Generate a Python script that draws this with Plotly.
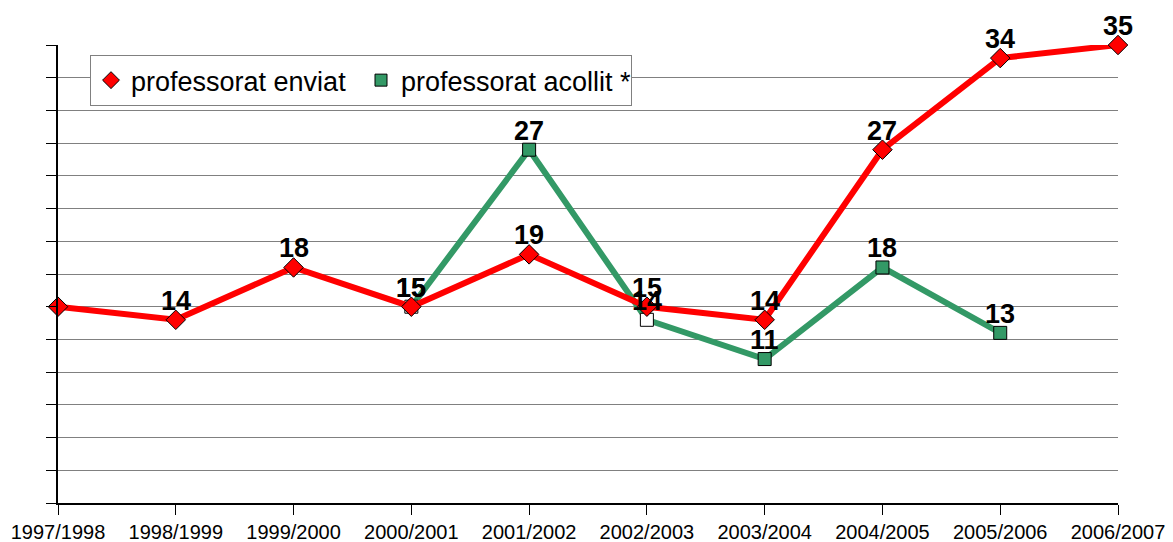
import plotly.graph_objects as go

cursos = ["1997/1998", "1998/1999", "1999/2000", "2000/2001", "2001/2002",
          "2002/2003", "2003/2004", "2004/2005", "2005/2006", "2006/2007"]
enviat = [15, 14, 18, 15, 19, 15, 14, 27, 34, 35]
acollit = [None, None, None, 15, 27, 14, 11, 18, 13, None]

# first point of the red series carries no label in the original
enviat_labelled = [False] + [True] * 9

RED = "#ff0000"
GREEN = "#339966"
label_font = dict(family="Liberation Sans, Arial, sans-serif", size=27,
                  color="black", weight="bold")

fig = go.Figure()

# green first so the red line sits on top of it
fig.add_trace(go.Scatter(
    x=cursos, y=acollit, mode="lines+markers", cliponaxis=False,
    line=dict(color=GREEN, width=6), showlegend=False,
    marker=dict(symbol="square", size=13,
                color=["white", "white", "white", "white", GREEN, "white", GREEN, GREEN, GREEN, GREEN],
                line=dict(color="black", width=1)),
))
fig.add_trace(go.Scatter(
    x=cursos, y=enviat, mode="lines+markers", cliponaxis=False,
    line=dict(color=RED, width=6), showlegend=False,
    marker=dict(symbol="diamond", size=15, color=RED, line=dict(color="black", width=1)),
))

# legend entries with marker only
fig.add_trace(go.Scatter(x=[None], y=[None], mode="markers", name="professorat enviat",
                         marker=dict(symbol="diamond", size=13, color=RED,
                                     line=dict(color="black", width=1))))
fig.add_trace(go.Scatter(x=[None], y=[None], mode="markers", name="professorat acollit *",
                         marker=dict(symbol="square", size=12, color=GREEN,
                                     line=dict(color="black", width=1))))

# value labels just above each point
for serie, shown in ((acollit, [v is not None for v in acollit]), (enviat, enviat_labelled)):
    for c, v, s in zip(cursos, serie, shown):
        if s:
            fig.add_annotation(x=c, y=v, text=str(v), showarrow=False,
                               yanchor="middle", yshift=19, font=label_font)

# the page body has an 8px margin, so the figure is 8px smaller and margins shifted
fig.update_layout(
    width=1165, height=534,
    margin=dict(l=50, r=55, t=37, b=39),
    paper_bgcolor="white", plot_bgcolor="white",
    font=dict(family="Liberation Sans, Arial, sans-serif", color="black"),
    legend=dict(orientation="h", x=0.0302, y=0.978, xanchor="left", yanchor="top",
                bgcolor="white", bordercolor="#808080", borderwidth=1,
                font=dict(size=27), itemwidth=30, entrywidth=225),
)
fig.update_xaxes(type="category", range=[0, 9], showgrid=False, automargin=False,
                 showline=True, linecolor="black", linewidth=2,
                 ticks="outside", ticklen=10, tickcolor="black", tickwidth=1,
                 tickfont=dict(size=20))
fig.update_yaxes(range=[0, 35], dtick=2.5, showticklabels=False, automargin=False,
                 showgrid=True, gridcolor="#808080", gridwidth=1,
                 showline=True, linecolor="black", linewidth=2,
                 ticks="outside", ticklen=10, tickcolor="black", tickwidth=1,
                 zeroline=False)

fig.write_html("out.html")
